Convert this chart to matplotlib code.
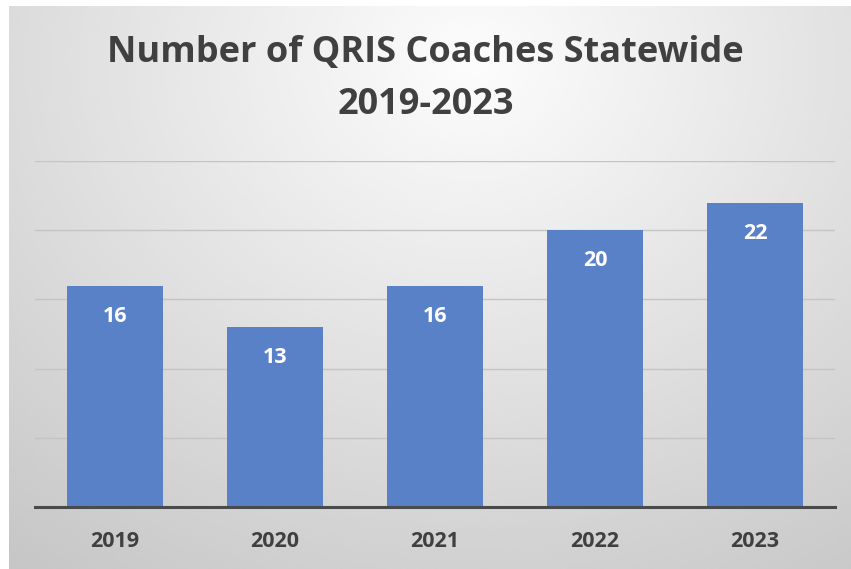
import numpy as np
import matplotlib.pyplot as plt

# Data
years = ['2019', '2020', '2021', '2022', '2023']
coaches = [16, 13, 16, 20, 22]

plt.rcParams['font.family'] = ['Open Sans', 'DejaVu Sans']

fig = plt.figure(figsize=(8.51, 5.69), dpi=100)
fig.patch.set_facecolor('white')

# Gradient background panel (lighter in the upper middle, gray towards edges)
bg = fig.add_axes([9 / 851, 0, 1 - 9 / 851, 1 - 6 / 569], zorder=0)
yy, xx = np.mgrid[0:1:300j, 0:1:300j]
dist = np.sqrt(((xx - 0.55) / 0.85) ** 2 + ((yy - 0.1) / 1.05) ** 2)
shade = 0.99 - 0.2 * np.clip(dist, 0, 1.1)
bg.imshow(shade, cmap='gray', vmin=0, vmax=1, aspect='auto',
          extent=[0, 1, 1, 0], interpolation='bicubic')
bg.axis('off')

# Main chart
ax = fig.add_axes([35 / 851, 1 - 507 / 569, 800 / 851, (507 - 161) / 569], zorder=1)
ax.patch.set_alpha(0)
x = np.arange(len(years))
bars = ax.bar(x, coaches, width=0.6, color='#5981c8', zorder=2)
ax.set_xlim(-0.5, len(years) - 0.5)
ax.set_ylim(0, 25)
ax.set_yticks([5, 10, 15, 20, 25])
ax.yaxis.grid(True, color='#c4c4c4', linewidth=1)
ax.set_axisbelow(True)
ax.tick_params(axis='y', left=False, labelleft=False)
ax.tick_params(axis='x', bottom=False, pad=14)
ax.set_xticks(x)
ax.set_xticklabels(years, fontsize=15.5, fontweight='bold', color='#404040')
for side in ['top', 'right', 'left']:
    ax.spines[side].set_visible(False)
ax.spines['bottom'].set_color('#4a4a4a')
ax.spines['bottom'].set_linewidth(2.2)

for rect, v in zip(bars, coaches):
    ax.annotate(str(v), (rect.get_x() + rect.get_width() / 2, v),
                xytext=(0, -26), textcoords='offset points', ha='center',
                va='baseline', color='white', fontsize=15.5, fontweight='bold')

fig.text(0.5, 1 - 53 / 569, 'Number of QRIS Coaches Statewide', ha='center', va='center',
         fontsize=26, fontweight='bold', color='#404040')
fig.text(0.5, 1 - 105 / 569, '2019-2023', ha='center', va='center',
         fontsize=26, fontweight='bold', color='#404040')

fig.savefig('out.png', dpi=100)
